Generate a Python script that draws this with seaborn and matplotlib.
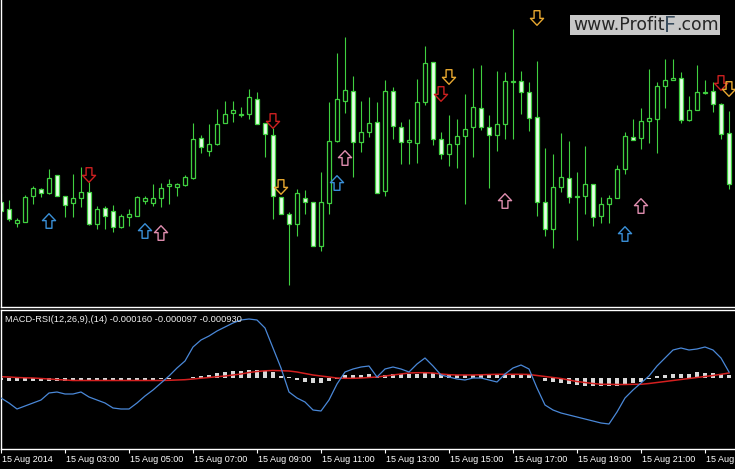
import numpy as np
import pandas as pd
import matplotlib
matplotlib.use("Agg")
import matplotlib.pyplot as plt
import seaborn as sns
from matplotlib.path import Path
from matplotlib.patches import Rectangle
from matplotlib.transforms import ScaledTranslation

# EURUSD M15, 15 Aug 2014, first bar at 01:00
opens = [1.33798, 1.33791, 1.33777, 1.33778, 1.33804, 1.33811, 1.33807, 1.33825, 1.33804, 1.33797,
         1.33802, 1.33808, 1.33776, 1.33792, 1.33789, 1.33773, 1.33783, 1.33784, 1.33799, 1.33797,
         1.33802, 1.33814, 1.33813, 1.33815, 1.33822, 1.33862, 1.33849, 1.33856, 1.33877, 1.33887,
         1.338855, 1.33886, 1.33901, 1.33877, 1.33865, 1.33803, 1.33786, 1.33776, 1.33802, 1.33798,
         1.33754, 1.33797, 1.33859, 1.33899, 1.33909, 1.33858, 1.33868, 1.33878, 1.33809, 1.33909,
         1.33873, 1.33858, 1.33857, 1.33898, 1.33938, 1.33861, 1.33846, 1.33856, 1.33864, 1.33873,
         1.33892, 1.33873, 1.33865, 1.33876, 1.339185, 1.33919, 1.33908, 1.33883, 1.33798, 1.33771,
         1.33813, 1.33822, 1.338035, 1.33804, 1.33816, 1.33784, 1.33796, 1.33802, 1.33831, 1.33863,
         1.33862, 1.33879, 1.33881, 1.33914, 1.33920, 1.33922, 1.33880, 1.33890, 1.339075, 1.33909,
         1.33896, 1.33867]
highs = [1.33807, 1.33800, 1.33782, 1.33805, 1.33814, 1.33812, 1.33831, 1.33825, 1.33804, 1.33826,
         1.33833, 1.33818, 1.33794, 1.33794, 1.33795, 1.33786, 1.33791, 1.33804, 1.33804, 1.33816,
         1.33817, 1.33821, 1.33817, 1.33825, 1.33877, 1.33865, 1.33876, 1.33891, 1.33899, 1.33899,
         1.33893, 1.33911, 1.33908, 1.33877, 1.33872, 1.33803, 1.33788, 1.33811, 1.33810, 1.33798,
         1.33828, 1.33898, 1.33947, 1.33963, 1.33924, 1.33899, 1.33903, 1.33898, 1.33920, 1.33913,
         1.33878, 1.33881, 1.33921, 1.33954, 1.33938, 1.33868, 1.33885, 1.33881, 1.33906, 1.33932,
         1.33935, 1.33885, 1.33929, 1.33928, 1.33971, 1.33929, 1.33918, 1.33939, 1.33852, 1.33846,
         1.33867, 1.33859, 1.33828, 1.33854, 1.33816, 1.33803, 1.33805, 1.33835, 1.33868, 1.33881,
         1.33892, 1.33931, 1.33918, 1.33941, 1.33941, 1.33928, 1.33904, 1.33935, 1.33920, 1.33918,
         1.33897, 1.33889]
lows = [1.33784, 1.33779, 1.33773, 1.33778, 1.33796, 1.33803, 1.33806, 1.33804, 1.33783, 1.33783,
        1.33793, 1.33775, 1.33771, 1.33771, 1.33768, 1.33772, 1.33774, 1.33784, 1.33796, 1.33794,
        1.33793, 1.33796, 1.33804, 1.33814, 1.33821, 1.33847, 1.33844, 1.33855, 1.33877, 1.33878,
        1.33883, 1.33881, 1.33876, 1.33843, 1.33781, 1.33786, 1.33715, 1.33764, 1.33786, 1.33754,
        1.33749, 1.33786, 1.33858, 1.33887, 1.33823, 1.33848, 1.33863, 1.33807, 1.33804, 1.33861,
        1.33836, 1.33836, 1.33837, 1.33895, 1.33855, 1.33841, 1.33834, 1.33832, 1.33796, 1.33843,
        1.33870, 1.33812, 1.33849, 1.33861, 1.33861, 1.33886, 1.33869, 1.33784, 1.33764, 1.33752,
        1.33808, 1.33797, 1.33760, 1.33786, 1.33774, 1.33777, 1.33777, 1.33802, 1.33826, 1.33860,
        1.33851, 1.33857, 1.33847, 1.33892, 1.33920, 1.33877, 1.33879, 1.33890, 1.33906, 1.33888,
        1.33861, 1.33811]
closes = [1.33789, 1.33781, 1.33780, 1.33803, 1.33812, 1.33807, 1.33822, 1.33804, 1.33795, 1.33802,
          1.33808, 1.33776, 1.33791, 1.33784, 1.33773, 1.33784, 1.33786, 1.33803, 1.33802, 1.33802,
          1.33812, 1.33816, 1.33816, 1.33823, 1.33861, 1.33853, 1.33856, 1.33876, 1.33886, 1.33890,
          1.33886, 1.33903, 1.33876, 1.33866, 1.33804, 1.33786, 1.33776, 1.33807, 1.33798, 1.33754,
          1.33798, 1.33859, 1.33901, 1.33910, 1.33858, 1.33868, 1.33877, 1.33807, 1.33909, 1.33874,
          1.33858, 1.33860, 1.33898, 1.33937, 1.33861, 1.33846, 1.33856, 1.33864, 1.33871, 1.33893,
          1.33873, 1.33865, 1.33876, 1.33919, 1.339195, 1.33908, 1.33882, 1.33798, 1.33771, 1.33813,
          1.33823, 1.33803, 1.33804, 1.33816, 1.33783, 1.33796, 1.33802, 1.33831, 1.33864, 1.33860,
          1.33879, 1.33882, 1.33914, 1.33920, 1.33922, 1.33880, 1.33890, 1.33908, 1.33908, 1.33896,
          1.33866, 1.33816]

# MACD-RSI subwindow, in units of 1e-5
macd_main = [-40, -50, -62, -56, -50, -44, -30, -28, -32, -32,
             -28, -38, -44, -50, -60, -62, -62, -50, -36, -24,
             -10, 4, 20, 34, 62, 76, 84, 94, 102, 110,
             116, 118, 116, 100, 60, 20, -28, -40, -48, -64,
             -66, -44, -12, 12, 18, 22, 24, 2, 18, 22,
             18, 12, 28, 40, 24, 6, 2, -2, -4, 0,
             0, -4, -8, 8, 20, 26, 18, -20, -54, -64,
             -70, -74, -78, -82, -86, -90, -92, -68, -40, -24,
             -10, 4, 24, 40, 56, 60, 56, 58, 62, 56,
             40, 12]
macd_signal = [2.6, 2, 1, 0.4, 0, -1, -2, -3, -4, -5,
               -5, -5, -5, -5, -5, -5, -5, -5, -5, -5,
               -5, -4.6, -4, -3.4, -2, -0.4, 1, 2.6, 4, 6,
               8, 11, 13, 14.4, 15, 14.6, 14, 12, 9, 6,
               4, 2, 0, -0.6, -0.6, 0, 1, 2, 4, 6,
               8, 10, 10.6, 10.6, 10, 8, 6.6, 6, 6, 6,
               6.4, 7, 7.4, 7.4, 7.4, 7.4, 7, 5, 3, 1,
               -1, -4, -7, -9, -11, -12.6, -12.6, -13, -13, -12.6,
               -12.6, -11, -9, -7, -5, -3, -1, 1, 3, 5,
               7.4, 10]
macd_hist = [-4, -6, -6, -6, -6, -6, -6, -5, -5, -5,
             -6, -6, -6, -6, -6, -6, -6, -6, -6, -4,
             -2, -1, 1, 1, 2, 5, 7, 10, 12, 14,
             15, 17, 17, 15, 12, 4, 2, -4, -7, -10,
             -10, -6, -1, 6, 6, 7, 9, 2, 7, 9,
             9, 9, 9, 13, 10, 9, 9, 7, 7, 7,
             6, 7, 7, 7, 9, 9, 7, 1, -5, -7,
             -10, -12, -14, -15, -15, -16, -16, -15, -14, -10,
             -7, -1, 4, 7, 9, 9, 9, 12, 10, 10,
             9, 7]

tick_bars = [0, 8, 16, 24, 32, 40, 48, 56, 64, 72, 80, 88]
tick_labels = ["15 Aug 2014", "15 Aug 03:00", "15 Aug 05:00", "15 Aug 07:00",
               "15 Aug 09:00", "15 Aug 11:00", "15 Aug 13:00", "15 Aug 15:00",
               "15 Aug 17:00", "15 Aug 19:00", "15 Aug 21:00", "15 Aug"]

# signal arrows
blue_up_bar = [6, 18, 42, 78]
blue_up_price = [1.33779, 1.33769, 1.33817, 1.33766]
pink_up_bar = [20, 43, 63, 80]
pink_up_price = [1.33767, 1.33842, 1.33799, 1.33794]
red_down_bar = [11, 34, 55, 90]
red_down_price = [1.33825, 1.33879, 1.33906, 1.33917]
gold_down_bar = [35, 56, 67, 91]
gold_down_price = [1.33813, 1.33923, 1.33982, 1.33911]

GREEN = "#40d040"
BEAR_FILL = "#e8ffe8"
W, H = 735, 469

fig = plt.figure(figsize=(W / 100, H / 100), dpi=100, facecolor="black")
left = 0.5 / W
ax = fig.add_axes([left, 1 - 306.5 / H, 1 - left, 306.5 / H], facecolor="black")
ax2 = fig.add_axes([left, 1 - 449 / H, 1 - left, (449 - 309.5) / H], facecolor="black")

xmin, xmax = -0.0625, 91.75

# candles
o = np.array(opens)
h = np.array(highs)
l = np.array(lows)
c = np.array(closes)
x = np.arange(len(o))
bull = c >= o
ax.vlines(x, l, h, color=GREEN, lw=0.8, zorder=1)
ax.bar(x[bull], (c - o)[bull], bottom=o[bull], width=0.62, facecolor="black",
       edgecolor=GREEN, lw=0.9, zorder=2)
ax.bar(x[~bull], (o - c)[~bull], bottom=c[~bull], width=0.62, facecolor=BEAR_FILL,
       edgecolor=GREEN, lw=0.9, zorder=2)

# arrows
up_path = Path([(0, 1), (0.9, 0.05), (0.4, 0.05), (0.4, -1), (-0.4, -1),
                (-0.4, 0.05), (-0.9, 0.05), (0, 1)], closed=True)
down_path = Path([(vx, -vy) for vx, vy in up_path.vertices], closed=True)
for bars, prices, path, col in [(blue_up_bar, blue_up_price, up_path, "#3a90d8"),
                                (pink_up_bar, pink_up_price, up_path, "#e08eb0"),
                                (red_down_bar, red_down_price, down_path, "#cc2020"),
                                (gold_down_bar, gold_down_price, down_path, "#e8a830")]:
    ax.scatter(bars, prices, marker=path, s=110, facecolors="none", edgecolors=col,
               linewidths=1.0, zorder=3)

ax.set_xlim(xmin, xmax)
ax.set_ylim(1.34 - 306.5e-5, 1.34)
ax.set_xticks([])
ax.set_yticks([])
for side in ["top", "right"]:
    ax.spines[side].set_visible(False)
for side in ["left", "bottom"]:
    ax.spines[side].set_color("white")
    ax.spines[side].set_linewidth(1.0)

# subwindow
df = pd.DataFrame({"bar": x,
                   "main": np.array(macd_main) * 1e-5,
                   "signal": np.array(macd_signal) * 1e-5,
                   "hist": np.array(macd_hist) * 1e-5})
ax2.bar(df["bar"], df["hist"], width=0.4, color="#d8d8d8", zorder=1)
sns.lineplot(data=df, x="bar", y="signal", color="#d42020", lw=1.1, ax=ax2, zorder=2)
sns.lineplot(data=df, x="bar", y="main", color="#4a88d8", lw=0.9, ax=ax2, zorder=3)
ax2.set_xlabel("")
ax2.set_ylabel("")
ax2.set_xlim(xmin, xmax)
ax2.set_ylim(-142e-5, 137e-5)
ax2.set_yticks([])
ax2.spines["right"].set_visible(False)
for side in ["left", "bottom", "top"]:
    ax2.spines[side].set_color("white")
    ax2.spines[side].set_linewidth(1.0)

ax2.set_xticks(tick_bars)
ax2.set_xticklabels(tick_labels, fontsize=6.5, family="Liberation Sans", color="white")
ax2.tick_params(axis="x", direction="out", length=3, width=0.8, color="white", pad=1.5)
shift = ScaledTranslation(1 / 100, 0, fig.dpi_scale_trans)
for lbl in ax2.get_xticklabels():
    lbl.set_ha("left")
    lbl.set_transform(lbl.get_transform() + shift)

ax2.text(5 / W, 0.925, "MACD-RSI(12,26,9),(14) -0.000160 -0.000097 -0.000930",
         transform=ax2.transAxes, ha="left", va="center", fontsize=6.7,
         family="Liberation Sans", color="#f0f0f0")

# watermark box and text, laid out piece by piece at figure level
fig.add_artist(Rectangle((570 / W, 1 - 35 / H), 150 / W, 20 / H,
                         transform=fig.transFigure, facecolor="#c8c8c8",
                         edgecolor="none", zorder=10))
renderer = fig.canvas.get_renderer()
t1 = fig.text(573 / W, 1 - 30 / H, "www.Profit", fontsize=12.4, family="DejaVu Sans",
              color="#262626", ha="left", va="baseline", zorder=11)
x_next = t1.get_window_extent(renderer=renderer).x1
t2 = fig.text(x_next / W, 1 - 32 / H, "F", fontsize=15, family="DejaVu Sans",
              color="#3a4d5e", ha="left", va="baseline", zorder=11)
x_next = t2.get_window_extent(renderer=renderer).x1
fig.text(x_next / W, 1 - 30 / H, ".com", fontsize=12.4, family="DejaVu Sans",
         color="#262626", ha="left", va="baseline", zorder=11)

fig.savefig("out.png", dpi=100, facecolor="black")
